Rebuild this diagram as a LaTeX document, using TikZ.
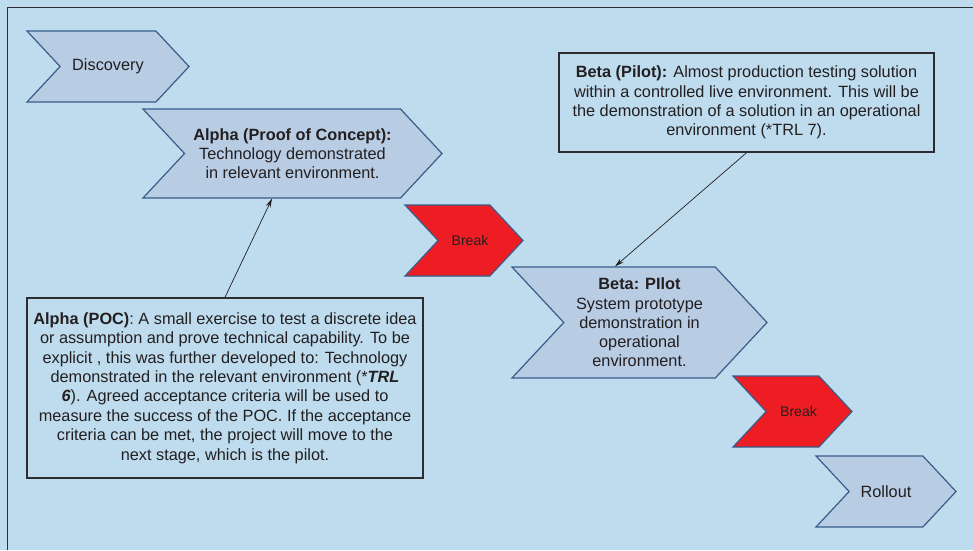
\documentclass[tikz,border=0pt]{standalone}
\usepackage{fontspec}
\setmainfont{Liberation Sans}
\usepackage{tikz}
\usetikzlibrary{shapes.symbols}
\usetikzlibrary{arrows.meta}

\definecolor{paneblue}{RGB}{190,220,238}
\definecolor{stagefill}{RGB}{184,204,228}
\definecolor{stageedge}{RGB}{56,93,138}
\definecolor{breakred}{RGB}{238,29,36}
\definecolor{inkgray}{RGB}{35,31,32}
\definecolor{framegray}{RGB}{45,45,48}

\tikzset{
  stage/.style={signal, signal from=west, signal to=east, signal pointer angle=94,
    draw=stageedge, line width=1.2pt, fill=stagefill, text=inkgray,
    font=\fontsize{16.3}{19.3}\selectfont, align=center, inner sep=0pt},
  breakstage/.style={stage, fill=breakred, font=\fontsize{14}{16}\selectfont},
  notebox/.style={rectangle, draw=framegray, line width=1.5pt, fill=paneblue,
    text=inkgray, font=\fontsize{16.3}{19.4}\selectfont, align=center, inner sep=0pt},
  pointer/.style={-{Stealth[length=9pt,width=5pt]}, line width=0.7pt, draw=inkgray}
}

\begin{document}
\begin{tikzpicture}[x=1pt,y=-1pt]
% Background and frame
\fill[paneblue] (0,0) rectangle (973,550);
\useasboundingbox (0,0) rectangle (973,550);
\draw[framegray, line width=1.5pt] (7.5,550) -- (7.5,7.5) -- (973,7.5);

% Stages
\node at (108,66.5) [stage, minimum width=162pt, minimum height=71pt] (disc) {Discovery};
\node at (292.5,153.5) [stage, minimum width=299pt, minimum height=89pt] (alpha)
  {\textbf{Alpha (Proof of Concept):}\\Technology demonstrated\\in relevant environment.};
\node at (464,240.5) [breakstage, minimum width=118pt, minimum height=71pt] (brka) {\hspace*{12pt}Break};
\node at (639.5,322.5) [stage, minimum width=255pt, minimum height=111pt] (beta)
  {\textbf{Beta: PIlot}\\System prototype\\demonstration in\\operational\\environment.};
\node at (792.5,411.5) [breakstage, minimum width=119pt, minimum height=71pt] (brkb) {\hspace*{12pt}Break};
\node at (886,491.5) [stage, minimum width=140pt, minimum height=71pt] (rollout) {Rollout};

% Notes
\node at (225,388) [notebox, minimum width=396pt, minimum height=180pt] (pocnote)
  {\textbf{Alpha (POC)}: A small exercise to test a discrete idea\\
   or assumption and prove technical capability. To be\\
   explicit , this was further developed to: Technology\\
   demonstrated in the relevant environment (*\textbf{\textit{TRL}}\\
   \textbf{\textit{6}}). Agreed acceptance criteria will be used to\\
   measure the success of the POC. If the acceptance\\
   criteria can be met, the project will move to the\\
   next stage, which is the pilot.};
\node at (746.5,102.5) [notebox, minimum width=375pt, minimum height=99pt] (pilotnote)
  {\textbf{Beta (Pilot):} Almost production testing solution\\
   within a controlled live environment. This will be\\
   the demonstration of a solution in an operational\\
   environment (*TRL 7).};

% Pointers
\draw[pointer] (pocnote.north) -- ([xshift=-20.5pt]alpha.south);
\draw[pointer] (pilotnote.south) -- ([xshift=-24.5pt]beta.north);

\end{tikzpicture}
\end{document}
